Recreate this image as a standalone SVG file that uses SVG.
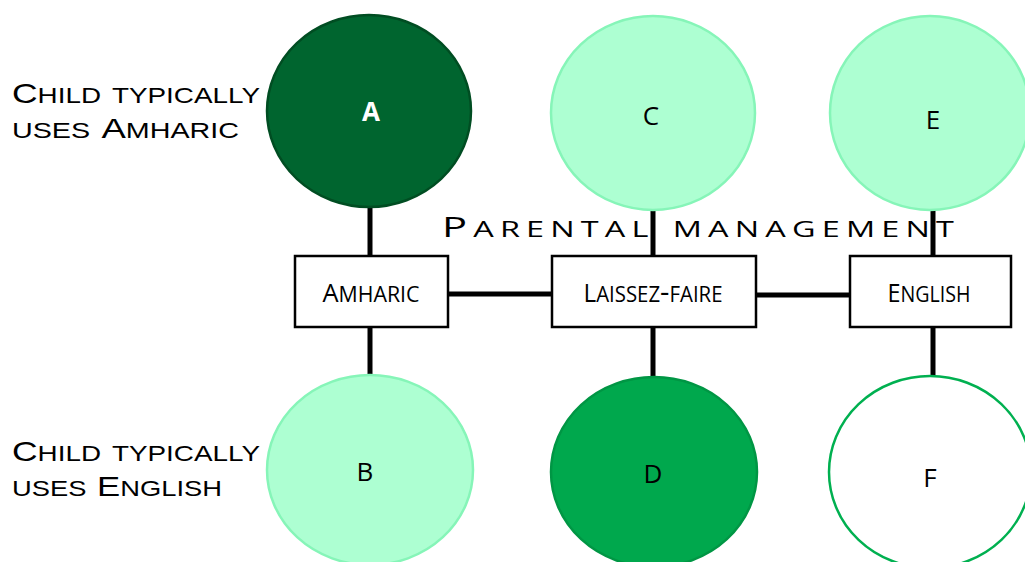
<svg xmlns="http://www.w3.org/2000/svg" width="1025" height="562" viewBox="0 0 1025 562">
<style>
.sc{font-family:"Open Sans","Noto Sans",sans-serif;font-variant:small-caps;fill:#000}
.lbl{font-family:"Liberation Sans",Arial,sans-serif;font-variant:small-caps;font-size:31px;fill:#000}
.lbl .u{font-size:28px}
.box{fill:#fff;stroke:#000;stroke-width:2.5}
.bt{font-size:30px;text-anchor:middle}
.bt .u{font-size:25px}
.lt{font-family:"Open Sans","Noto Sans",sans-serif;font-size:26px;text-anchor:middle;fill:#000}
.light{fill:#adffd2;stroke:#86f5b8;stroke-width:2.5}
.conn line{stroke:#000;stroke-width:5}
</style>
<rect width="1025" height="562" fill="#fff"/>
<g class="conn">
<line x1="370" y1="205" x2="370" y2="258"/>
<line x1="370" y1="326" x2="370" y2="378"/>
<line x1="653" y1="208" x2="653" y2="258"/>
<line x1="653" y1="326" x2="653" y2="378"/>
<line x1="933" y1="208" x2="933" y2="258"/>
<line x1="933" y1="326" x2="933" y2="378"/>
<line x1="447" y1="294" x2="553" y2="294"/>
<line x1="755" y1="295" x2="851" y2="295"/>
</g>
<g id="nodeA"><ellipse cx="369" cy="111" rx="102" ry="96" fill="#00652f" stroke="#004d22" stroke-width="2.5"/><text x="371" y="121" class="lt" style="fill:#fff;font-weight:bold">A</text></g>
<g id="nodeC"><ellipse cx="653" cy="113" rx="102" ry="97" class="light"/><text x="651" y="125" class="lt">C</text></g>
<g id="nodeE"><ellipse cx="930" cy="113" rx="100" ry="97" class="light"/><text x="933" y="129" class="lt">E</text></g>
<g id="nodeB"><ellipse cx="370" cy="470" rx="103" ry="95" class="light"/><text x="365" y="481" class="lt">B</text></g>
<g id="nodeD"><ellipse cx="654" cy="472" rx="103" ry="95" fill="#00a84d" stroke="#009644" stroke-width="2.5"/><text x="653" y="483" class="lt">D</text></g>
<g id="nodeF"><ellipse cx="930" cy="472" rx="101" ry="96" fill="#fff" stroke="#00b050" stroke-width="2.5"/><text x="930" y="487" class="lt">F</text></g>
<g id="boxAmharic"><rect x="295" y="256" width="153" height="71" class="box"/><text x="371" y="302" class="sc bt" textLength="97" lengthAdjust="spacingAndGlyphs"><tspan class="u">A</tspan>mharic</text></g>
<g id="boxLaissez"><rect x="552" y="256" width="204" height="71" class="box"/><text x="653" y="302" class="sc bt" textLength="139" lengthAdjust="spacingAndGlyphs"><tspan class="u">L</tspan>aissez-faire</text></g>
<g id="boxEnglish"><rect x="850" y="256" width="161" height="71" class="box"/><text x="929" y="302" class="sc bt" textLength="83" lengthAdjust="spacingAndGlyphs"><tspan class="u">E</tspan>nglish</text></g>
<g id="title"><text x="442" y="237" class="sc" font-size="30" letter-spacing="4" textLength="518" lengthAdjust="spacingAndGlyphs"><tspan font-size="27">P</tspan>arental management</text></g>
<g id="labelTop"><text x="12" y="103" class="lbl" textLength="248" lengthAdjust="spacingAndGlyphs"><tspan class="u">C</tspan>hild typically</text><text x="12" y="138" class="lbl" textLength="227" lengthAdjust="spacingAndGlyphs">uses <tspan class="u">A</tspan>mharic</text></g>
<g id="labelBottom"><text x="12" y="461" class="lbl" textLength="248" lengthAdjust="spacingAndGlyphs"><tspan class="u">C</tspan>hild typically</text><text x="12" y="496" class="lbl" textLength="210" lengthAdjust="spacingAndGlyphs">uses <tspan class="u">E</tspan>nglish</text></g>
</svg>
